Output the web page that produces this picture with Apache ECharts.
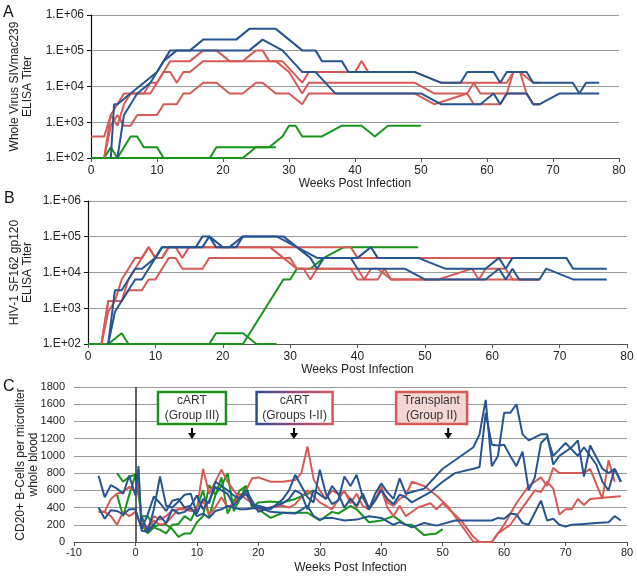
<!DOCTYPE html>
<html><head><meta charset="utf-8">
<script src="https://cdn.jsdelivr.net/npm/echarts@6/dist/echarts.min.js"></script>
<style>html,body{margin:0;padding:0;background:#fff}#c{width:637px;height:576px}</style>
</head><body><div id="c"></div>
<script>
// ---------- Panel A: Whole Virus SIVmac239 ELISA titer ----------
const aBlue1 = [[3,100],[3.5,3200],[4,3200],[6,6400],[8,12800],[10,25600],[11,51200],[12,102400],[15,102400],[17,204800],[22,204800],[24,409600],[28,409600],[32,102400],[34,102400],[35,51200],[38,51200],[39,25600],[49,25600],[53,12800],[56,12800],[57,25600],[61,25600],[62,12800],[63,25600],[66,25600],[67,12800],[73,12800],[74,6400],[75,12800],[77,12800]];
const aBlue2 = [[4,100],[5,1600],[6,3200],[7,6400],[9,12800],[10,25600],[11,51200],[13,102400],[24,102400],[26,204800],[29,102400],[32,25600],[34,25600],[37,6400],[50,6400],[53,3200],[59,3200],[61,6400],[62,3200],[63,6400],[66,6400],[67,3200],[68,3200],[71,6400],[77,6400]];
const aRed1 = [[0,400],[2,400],[3,1600],[4,3200],[5,6400],[9,6400],[10,12800],[11,25600],[12,51200],[15,51200],[17,102400],[19,102400],[21,51200],[23,51200],[25,102400],[26,102400],[27,51200],[29,51200],[32,12800],[33,25600],[40,25600],[41,51200],[42,25600],[49,25600],[53,12800],[63,12800],[64,25600],[65,25600],[67,12800],[68,12800]];
const aRed2 = [[2,100],[3,800],[4,1600],[5,800],[6,800],[7,1600],[10,1600],[11,3200],[13,3200],[14,6400],[15,6400],[17,12800],[19,12800],[21,6400],[23,6400],[25,12800],[26,12800],[28,6400],[30,6400],[32,3200],[33,6400],[49,6400],[52,3200],[57,6400],[58,12800],[59,6400],[66,6400],[67,3200],[68,3200]];
const aRed3 = [[2,100],[3,1600],[4,800],[5,3200],[6,6400],[8,6400],[9,12800],[10,12800],[11,25600],[12,25600],[13,12800],[14,25600],[15,25600],[17,51200],[28,51200],[30,25600],[32,6400],[33,12800],[49,12800],[52,6400],[57,6400],[58,3200],[62,3200],[63,6400],[64,25600],[65,25600],[66,6400],[67,3200],[68,3200]];
const aGreen1 = [[0,100],[2,100],[3,200],[4,100],[6,400],[7,400],[8,200],[10,200],[11,100],[18,100],[19,200],[28,200]];
const aGreen2 = [[0,100],[23,100],[25,200],[27,200],[29,400],[30,800],[31,800],[32,400],[35,400],[38,800],[41,800],[43,400],[45,800],[50,800]];

// ---------- Panel B: HIV-1 SF162 gp120 ELISA titer ----------
const bBlue1 = [[3,100],[4,3200],[5,3200],[7,12800],[8,12800],[10,25600],[11,51200],[16,51200],[17,102400],[18,102400],[20,51200],[22,51200],[23,102400],[28,102400],[31,51200],[34,25600],[40,25600],[42,51200],[43,25600],[49,25600],[53,12800],[59,12800],[61,25600],[62,12800],[63,25600],[67,25600],[71,25600],[72,12800],[77,12800]];
const bBlue2 = [[3,100],[4,800],[6,3200],[7,6400],[8,6400],[9,12800],[10,25600],[11,51200],[17,51200],[18,102400],[19,51200],[21,51200],[23,102400],[29,102400],[33,25600],[34,12800],[35,25600],[39,25600],[40,12800],[47,12800],[50,6400],[59,6400],[61,12800],[62,6400],[63,12800],[64,6400],[67,6400],[68,12800],[72,6400],[77,6400]];
const bRed1 = [[2,100],[3,1600],[5,1600],[6,6400],[7,12800],[8,25600],[9,51200],[10,25600],[11,25600],[12,51200],[39,51200],[40,25600],[67,25600]];
const bRed2 = [[2,100],[3,1600],[4,1600],[5,6400],[6,12800],[7,25600],[8,25600],[9,51200],[10,25600],[11,25600],[12,51200],[13,51200],[14,25600],[15,51200],[27,51200],[29,25600],[31,12800],[40,12800],[41,6400],[43,6400],[44,12800],[45,6400],[67,6400]];
const bRed3 = [[2,100],[3,800],[4,1600],[5,1600],[6,3200],[8,3200],[9,6400],[10,6400],[12,25600],[13,25600],[14,12800],[17,12800],[18,25600],[30,25600],[31,12800],[32,12800],[33,6400],[34,12800],[39,12800],[40,6400],[41,6400],[42,12800],[43,12800],[45,6400],[52,6400],[57,12800],[58,6400],[59,12800],[62,12800],[63,6400],[67,6400]];
const bGreen1 = [[0,100],[3,100],[5,200],[6,100],[18,100],[19,200],[23,200],[25,100],[28,100]];
const bGreen2 = [[0,100],[23,100],[29,6400],[30,6400],[31,12800],[33,12800],[35,25600],[38,51200],[49,51200]];

// ---------- Panel C: CD20+ B cells per microliter ----------
const cBlue1 = [[-6,770],[-5,520],[-4,660],[-3,620],[-2,560],[-1,770],[0,540],[0.5,880],[1,130],[2,120],[3,380],[4,760],[5,420],[6,400],[7,470],[8,550],[9,560],[10,330],[11,500],[12,450],[13,700],[14,650],[15,600],[16,540],[17,500],[18,560],[19,430],[20,420],[22,380],[24,500],[25,600],[26,780],[27,650],[28,520],[29,460],[30,840],[31,560],[32,440],[33,480],[34,760],[35,650],[36,780],[37,520],[38,380],[39,560],[40,680],[41,580],[42,500],[43,740],[44,560],[45,580],[47,620],[50,850],[52,950],[55,1100],[56,1250],[57,1650],[58,880],[59,1000],[60,1500],[61,1500],[62,1600],[63,1250],[64,1180],[66,1250],[67,1250],[68,900],[69,1000],[71,1100],[72,1180],[73,760],[74,1120],[76,850],[77,800],[78,850],[79,700]];
const cBlue2 = [[-6,400],[-5,270],[-4,370],[-3,360],[-2,320],[-1,380],[0,380],[1,150],[2,320],[3,530],[4,450],[5,360],[6,480],[7,500],[8,400],[9,420],[10,540],[11,380],[12,480],[13,640],[14,600],[15,560],[16,420],[17,520],[18,600],[19,480],[20,350],[22,400],[24,450],[25,500],[26,600],[27,560],[28,380],[29,600],[30,550],[31,500],[32,650],[33,560],[34,400],[35,500],[36,420],[37,560],[38,380],[39,480],[40,600],[41,500],[42,440],[43,550],[44,520],[45,460],[46,500],[48,580],[50,700],[52,800],[55,850],[56,870],[57,1500],[58,1130],[59,1120],[60,1130],[61,1000],[62,880],[63,1050],[64,600],[65,750],[66,1150],[67,1220],[68,1000],[70,1150],[72,1000],[73,1100],[75,900],[76,700],[77,600],[78,850],[79,700]];
const cBlue3 = [[1,300],[2,120],[3,200],[4,300],[5,220],[6,380],[7,330],[8,350],[9,400],[10,300],[11,330],[12,280],[13,360],[14,380],[15,420],[16,400],[17,380],[18,380],[20,400],[22,350],[24,340],[26,330],[28,420],[29,300],[30,260],[31,280],[32,280],[34,250],[36,260],[38,300],[40,280],[42,200],[43,230],[45,170],[47,220],[49,190],[52,250],[55,250],[57,250],[58,250],[59,280],[60,270],[61,330],[62,320],[63,220],[64,200],[66,480],[67,250],[68,270],[69,200],[70,180],[71,200],[73,210],[75,220],[77,230],[78,300],[79,250]];
const cRed1 = [[-6,350],[-5,350],[-4,500],[-3,560],[-2,580],[-1,640],[0,580],[0.5,700],[1,200],[2,170],[3,300],[4,260],[5,300],[6,370],[7,380],[8,380],[9,360],[10,380],[11,850],[12,560],[13,700],[14,840],[15,700],[16,600],[17,500],[18,600],[19,740],[20,750],[22,700],[24,700],[26,720],[27,800],[28,1110],[29,730],[30,600],[31,500],[32,600],[33,560],[34,580],[35,500],[36,400],[37,560],[38,400],[39,480],[40,650],[41,460],[42,420],[43,500],[44,540],[45,700],[47,650],[49,540],[51,400],[53,200],[55,0],[57,0],[58,0],[60,200],[62,450],[64,650],[66,750],[67,650],[68,860],[69,800],[73,800],[74,850],[76,500],[77,950],[78,700]];
const cRed2 = [[-6,350],[-5,350],[-4,300],[-3,200],[-2,350],[-1,300],[0,350],[1,180],[2,150],[3,250],[4,200],[5,220],[6,300],[7,380],[8,400],[9,380],[10,350],[11,480],[12,320],[13,400],[14,520],[15,400],[16,450],[17,560],[18,500],[19,450],[20,380],[22,400],[24,420],[25,400],[26,440],[28,600],[30,460],[32,380],[34,600],[35,450],[36,560],[37,420],[38,380],[40,620],[41,400],[42,300],[43,420],[44,300],[46,400],[48,450],[49,380],[50,450],[53,250],[55,60],[56,0],[58,0],[59,100],[61,200],[63,400],[65,600],[66,580],[67,700],[68,620],[69,320],[70,380],[71,380],[72,500],[73,430],[74,500],[77,520],[79,530]];
const cGreen1 = [[-3,800],[-2,700],[-1,760],[0,780],[0.5,760],[1,200],[2,100],[3,170],[4,140],[5,100],[6,200],[7,210],[8,300],[9,250],[10,400],[11,600],[12,300],[13,540],[14,750],[15,330],[16,480],[17,600],[18,650],[19,400],[20,460],[22,470],[24,460],[26,500],[28,560],[29,600]];
const cGreen2 = [[-3,550],[-2,300],[-1,550],[0,780],[1,300],[2,300],[3,180],[4,200],[5,200],[6,150],[7,60],[8,100],[9,100],[10,230],[11,300],[12,660],[13,550],[14,650],[15,800],[16,360],[17,500],[18,650],[19,400],[20,380],[22,280],[24,340],[26,340],[28,340],[30,250],[32,350],[33,330],[35,420],[36,380],[38,230],[40,250],[42,300],[44,200],[45,200],[47,80],[49,100],[50,150]];

// tick labels / annotations
const logTicks = ['1.E+02','1.E+03','1.E+04','1.E+05','1.E+06'];
const annotations = [
  {lines:['cART','(Group III)'], boxWeek:9.2, arrowWeek:9.2, kind:'green'},
  {lines:['cART','(Groups I-II)'], boxWeek:25.9, arrowWeek:25.8, kind:'grad'},
  {lines:['Transplant','(Group II)'], boxWeek:48.2, arrowWeek:50.9, kind:'red'}
];

const BLUE = '#265592', RED = '#d65b57', GREEN = '#17951b';
const FONT = 'Liberation Sans, Arial, sans-serif';
const TXT = '#222';

function logLabel(v){ const e = Math.round(Math.log10(v)); return logTicks[e-2] || ''; }

function xAxisCfg(gi, min, fs, gap, margin){
  return {gridIndex:gi, type:'value', min:min, max:80, interval:10,
    name:'Weeks Post Infection', nameLocation:'middle', nameGap:gap,
    nameTextStyle:{fontFamily:FONT, fontSize:12, color:TXT},
    axisLine:{show:true, onZero:false, lineStyle:{color:'#555', width:1.2}},
    axisTick:{show:true, length:4, lineStyle:{color:'#555'}},
    axisLabel:{fontFamily:FONT, fontSize:fs, color:TXT, margin:margin, formatter:v => String(v)},
    splitLine:{show:false}};
}
function logYAxis(gi, name, gap){
  return {gridIndex:gi, type:'log', logBase:10, min:100, max:1000000,
    name:name, nameLocation:'middle', nameRotate:90, nameGap:gap, nameMoveOverlap:false,
    nameTextStyle:{fontFamily:FONT, fontSize:12, color:TXT, lineHeight:13, align:'center'},
    axisLine:{show:true, lineStyle:{color:'#111', width:1.2}},
    axisTick:{show:true, length:4, lineStyle:{color:'#111'}},
    minorTick:{show:false},
    axisLabel:{fontFamily:FONT, fontSize:12, color:TXT, margin:7, formatter:logLabel},
    splitLine:{show:true, lineStyle:{color:'#9a9a9a', width:1}}};
}
function line(name, data, color, gi){
  return {name:name, type:'line', xAxisIndex:gi, yAxisIndex:gi, data:data,
    symbol:'none', smooth:false, lineStyle:{color:color, width:2}, itemStyle:{color:color},
    z:color===GREEN?3:(color===RED?4:5)};
}

const option = {
  animation:false,
  backgroundColor:'#fff',
  grid:[
    {left:88, right:18, top:15, height:143},
    {left:86, right:10, top:201, height:143},
    {left:74, right:10, top:387, height:155}
  ],
  xAxis:[ xAxisCfg(0,0,12,19,7), xAxisCfg(1,0,12,18,7), xAxisCfg(2,-10,11,20,5) ],
  yAxis:[
    logYAxis(0,'Whole Virus SIVmac239\nELISA Titer',57),
    logYAxis(1,'HIV-1 SF162 gp120\nELISA Titer',54),
    {gridIndex:2, type:'value', min:0, max:1800, interval:200,
      name:'CD20+ B-Cells per microliter\nwhole blood', nameLocation:'middle', nameRotate:90, nameGap:34, nameMoveOverlap:false,
      nameTextStyle:{fontFamily:FONT, fontSize:12, color:TXT, lineHeight:13, align:'center'},
      axisLine:{show:false}, axisTick:{show:false},
      axisLabel:{fontFamily:FONT, fontSize:11, color:TXT, margin:9, formatter:v => String(v)},
      splitLine:{show:true, lineStyle:{color:'#9a9a9a', width:1}}}
  ],
  series:[
    line('aGreen1',aGreen1,GREEN,0), line('aGreen2',aGreen2,GREEN,0),
    line('aRed1',aRed1,RED,0), line('aRed2',aRed2,RED,0), line('aRed3',aRed3,RED,0),
    line('aBlue1',aBlue1,BLUE,0), line('aBlue2',aBlue2,BLUE,0),
    line('bGreen1',bGreen1,GREEN,1), line('bGreen2',bGreen2,GREEN,1),
    line('bRed1',bRed1,RED,1), line('bRed2',bRed2,RED,1), line('bRed3',bRed3,RED,1),
    line('bBlue1',bBlue1,BLUE,1), line('bBlue2',bBlue2,BLUE,1),
    Object.assign(line('cGreen1',cGreen1,GREEN,2), {markLine:{silent:true, symbol:'none', label:{show:false},
      lineStyle:{color:'#333', width:1.5, type:'solid'}, data:[[{coord:[0,0]},{coord:[0,1800]}]]}}),
    line('cGreen2',cGreen2,GREEN,2),
    line('cRed1',cRed1,RED,2), line('cRed2',cRed2,RED,2),
    line('cBlue1',cBlue1,BLUE,2), line('cBlue2',cBlue2,BLUE,2), line('cBlue3',cBlue3,BLUE,2)
  ]
};

const chart = echarts.init(document.getElementById('c'));
chart.setOption(option);

// panel letters + annotation boxes positioned from the panel C axes
const g = [
  {type:'text', left:3, top:5, style:{text:'A', fontFamily:FONT, fontSize:16, fill:'#111'}},
  {type:'text', left:4, top:191, style:{text:'B', fontFamily:FONT, fontSize:16, fill:'#111'}},
  {type:'text', left:3, top:379, style:{text:'C', fontFamily:FONT, fontSize:16, fill:'#111'}}
];
const boxW = {green:68, grad:76, red:71};
annotations.forEach(a => {
  const top = chart.convertToPixel({gridIndex:2}, [a.boxWeek, 1742]);
  const bot = chart.convertToPixel({gridIndex:2}, [a.boxWeek, 1370]);
  const ar1 = chart.convertToPixel({gridIndex:2}, [a.arrowWeek, 1324]);
  const ar2 = chart.convertToPixel({gridIndex:2}, [a.arrowWeek, 1208]);
  const w = boxW[a.kind], h = bot[1]-top[1];
  let stroke, fill = '#fff';
  if (a.kind==='green') stroke = GREEN;
  else if (a.kind==='red') { stroke = RED; fill = '#f5d6d5'; }
  else stroke = new echarts.graphic.LinearGradient(0,0,1,0,[{offset:0,color:'#2f4d98'},{offset:0.5,color:'#9a4a7a'},{offset:1,color:RED}]);
  g.push({type:'rect', shape:{x:top[0]-w/2, y:top[1], width:w, height:h}, style:{fill:fill, stroke:stroke, lineWidth:2.5}, z:100});
  g.push({type:'text', x:top[0], y:top[1]+h/2, z:101, style:{text:a.lines.join('\n'), fontFamily:FONT, fontSize:12, lineHeight:15, fill:'#333', align:'center', verticalAlign:'middle'}});
  g.push({type:'line', shape:{x1:ar1[0], y1:ar1[1], x2:ar2[0], y2:ar2[1]-3}, style:{stroke:'#000', lineWidth:2}, z:100});
  g.push({type:'polygon', shape:{points:[[ar2[0]-4,ar2[1]-5],[ar2[0]+4,ar2[1]-5],[ar2[0],ar2[1]+1]]}, style:{fill:'#000'}, z:100});
});
chart.setOption({graphic:g});
</script>
</body></html>
